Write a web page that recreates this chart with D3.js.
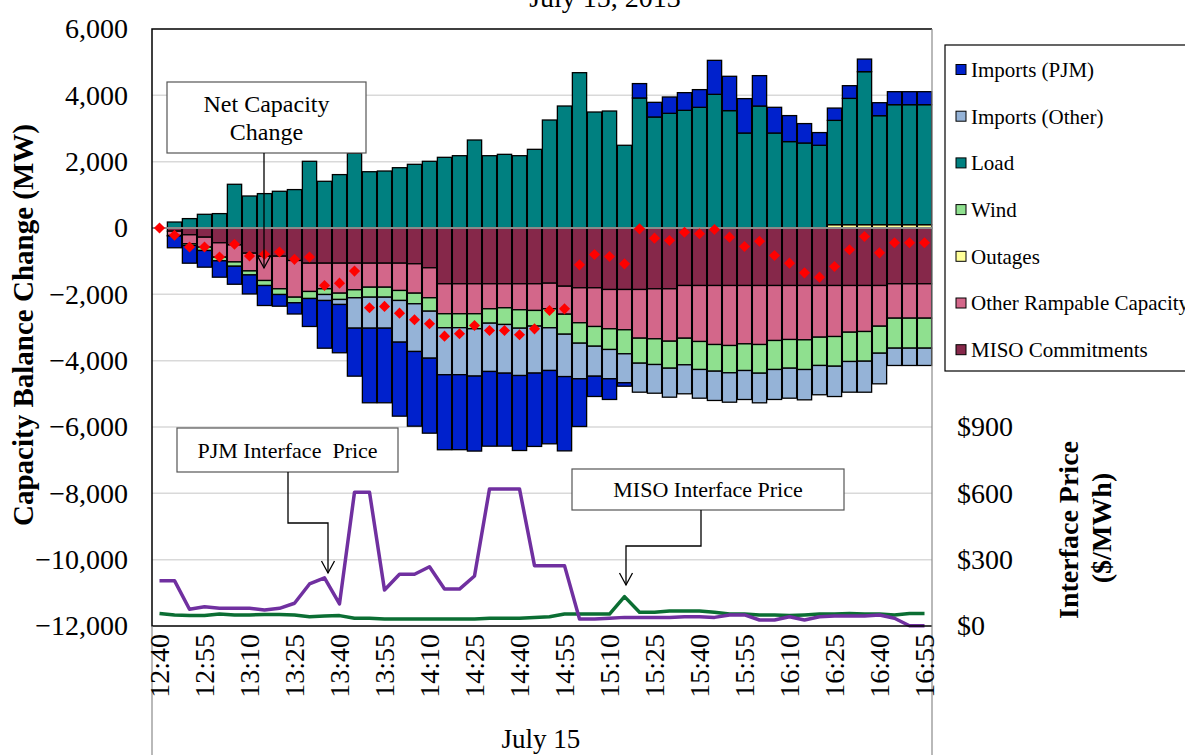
<!DOCTYPE html>
<html>
<head>
<meta charset="utf-8">
<script src="https://cdn.jsdelivr.net/npm/d3@7"></script>
<style>
  body { margin: 0; background: #fff; }
  text { font-family: "Liberation Serif", "Times New Roman", serif; fill: #000; }
</style>
</head>
<body>
<svg id="chart"></svg>
<script>
// 5-minute intervals, July 15
let times = ["12:40","12:45","12:50","12:55","13:00","13:05","13:10","13:15","13:20","13:25","13:30","13:35",
             "13:40","13:45","13:50","13:55","14:00","14:05","14:10","14:15","14:20","14:25","14:30","14:35",
             "14:40","14:45","14:50","14:55","15:00","15:05","15:10","15:15","15:20","15:25","15:30","15:35",
             "15:40","15:45","15:50","15:55","16:00","16:05","16:10","16:15","16:20","16:25","16:30","16:35",
             "16:40","16:45","16:50","16:55"];

// capacity balance change components (MW)
let misoCommitments = [0,-96,-205,-277,-446,-510,-760,-850,-850,-980,-1061,-1061,-1061,-1061,-1061,-1061,-1061,-1079,-1200,-1682,
                       -1682,-1682,-1682,-1682,-1682,-1682,-1664,-1755,-1803,-1803,-1854,-1854,-1854,-1833,-1833,-1734,-1734,-1734,-1734,-1734,
                       -1734,-1734,-1734,-1734,-1734,-1734,-1734,-1734,-1734,-1682,-1682,-1682];
let otherRampable = [0,-130,-271,-301,-434,-513,-534,-733,-983,-1106,-853,-772,-904,-802,-724,-724,-823,-886,-904,-904,
                     -904,-904,-754,-724,-784,-804,-772,-844,-1055,-1167,-1185,-1215,-1468,-1508,-1580,-1589,-1688,-1779,-1809,-1759,
                     -1779,-1658,-1628,-1638,-1558,-1538,-1408,-1387,-1227,-1037,-1037,-1037];
let outages = [0,0,0,0,0,0,0,0,0,0,0,0,0,0,0,0,0,0,0,0,
               0,0,0,0,0,0,0,0,0,0,0,0,0,0,0,0,0,0,0,0,
               0,0,0,0,0,100,100,100,100,100,100,100];
let wind = [0,-15,-51,-100,-109,-130,-121,-151,-172,-169,-211,-172,-190,-241,-301,-301,-301,-320,-404,-422,
            -420,-452,-434,-503,-555,-472,-573,-603,-615,-594,-624,-724,-754,-775,-814,-802,-844,-804,-823,-804,
            -865,-874,-865,-895,-853,-895,-883,-895,-814,-904,-904,-904];
let load = [0,180,283,413,434,1318,965,1037,1107,1158,2011,1408,1610,2252,1697,1718,1818,1920,2011,2131,
            2180,2653,2180,2221,2180,2372,3256,3678,4683,3497,3527,2494,3920,3347,3458,3548,3639,4030,3539,2864,
            3678,2864,2605,2563,2494,3145,3808,4613,3286,3618,3618,3618];
let importsOther = [0,0,0,0,0,0,0,0,0,0,0,-181,-151,-916,-935,-935,-1257,-1438,-1417,-1417,
                    -1417,-1427,-1456,-1468,-1427,-1417,-1287,-1278,-1073,-904,-883,-874,-874,-865,-874,-874,-865,-883,-886,-874,
                    -893,-904,-904,-914,-883,-914,-925,-935,-923,-522,-522,-522];
let importsPJM = [0,-355,-534,-503,-494,-543,-573,-603,-353,-338,-844,-1438,-1456,-1447,-2249,-2249,-2231,-2252,-2261,-2261,
                  -2261,-2261,-2252,-2200,-2261,-2211,-2211,-2240,-1438,-612,-624,-103,434,442,492,533,533,1025,1035,1037,
                  916,775,784,585,383,371,383,380,392,392,392,392];
let netCapacity = [0,-220,-572,-572,-874,-490,-844,-794,-724,-945,-874,-1734,-1664,-1300,-2405,-2365,-2567,-2767,-2888,-3262,
                   -3190,-2940,-3090,-3090,-3220,-3040,-2488,-2437,-1110,-800,-860,-1080,-25,-307,-377,-127,-175,-45,-277,-558,
                   -398,-829,-1061,-1351,-1483,-1161,-657,-256,-748,-446,-446,-446];

// interface prices ($/MWh)
let pjmPrice = [205,205,76,87,80,80,80,72,80,103,190,218,100,605,605,163,234,234,268,167,
                167,226,620,620,620,273,273,273,32,32,35,39,39,39,39,42,42,39,50,50,
                27,27,42,27,42,45,45,45,50,35,1,1];
let misoPrice = [57,50,47,47,54,50,50,52,52,50,42,45,47,35,35,32,32,32,32,32,
                 32,32,35,35,35,38,42,54,54,54,54,133,62,62,68,68,68,62,54,54,
                 50,50,47,50,54,54,57,54,54,50,57,57];

let mwTicks = [6000,4000,2000,0,-2000,-4000,-6000,-8000,-10000,-12000];
let priceTicks = [0,300,600,900];

let seriesNames = ["MISO Commitments","Other Rampable Capacity","Outages","Wind","Load","Imports (Other)","Imports (PJM)"];
let seriesValues = [misoCommitments, otherRampable, outages, wind, load, importsOther, importsPJM];
let colors = {
  "Imports (PJM)": "#0021cc",
  "Imports (Other)": "#95b3d7",
  "Load": "#008080",
  "Wind": "#8fe08f",
  "Outages": "#ffff99",
  "Other Rampable Capacity": "#d3678a",
  "MISO Commitments": "#86284a"
};
let legendOrder = ["Imports (PJM)","Imports (Other)","Load","Wind","Outages","Other Rampable Capacity","MISO Commitments"];

let width = 1185;
let height = 755;
let plot = {left: 152, right: 932, top: 29, bottom: 626};

let svg = d3.select('#chart').attr('width', width).attr('height', height);

let rows = times.map((t, i) => {
  let r = {time: t};
  seriesNames.forEach((s, k) => r[s] = seriesValues[k][i]);
  return r;
});

let xScale = d3.scaleBand().domain(times).range([plot.left, plot.right]).paddingInner(0.05).paddingOuter(0.025);
let xCenter = (t) => xScale(t) + xScale.bandwidth() / 2;
let yScale = d3.scaleLinear().domain([-12000, 6000]).range([plot.bottom, plot.top]);
let pScale = d3.scaleLinear().domain([0, 2700]).range([plot.bottom, plot.top]);

// gridlines
svg.append('g')
   .selectAll('line')
   .data(mwTicks.filter(d => d != 6000 && d != -12000 && d != 0))
   .enter()
   .append('line')
   .attr('x1', plot.left).attr('x2', plot.right)
   .attr('y1', d => yScale(d)).attr('y2', d => yScale(d))
   .attr('stroke', '#d9d9d9').attr('stroke-width', 1.5);

// stacked bars
let stack = d3.stack().keys(seriesNames).offset(d3.stackOffsetDiverging);
let stacked = stack(rows);

svg.append('g')
   .selectAll('g')
   .data(stacked)
   .enter()
   .append('g')
   .attr('fill', d => colors[d.key])
   .selectAll('rect')
   .data(d => d.filter(p => p[1] - p[0] != 0))
   .enter()
   .append('rect')
   .attr('x', d => xScale(d.data.time))
   .attr('width', xScale.bandwidth())
   .attr('y', d => yScale(Math.max(d[0], d[1])))
   .attr('height', d => Math.abs(yScale(d[0]) - yScale(d[1])))
   .attr('stroke', '#000')
   .attr('stroke-width', 1.3);

// zero line
svg.append('line')
   .attr('x1', plot.left).attr('x2', plot.right)
   .attr('y1', yScale(0)).attr('y2', yScale(0))
   .attr('stroke', '#8a8a8a').attr('stroke-width', 1.8);

// net capacity diamonds
svg.append('g')
   .selectAll('path')
   .data(netCapacity)
   .enter()
   .append('path')
   .attr('d', d3.symbol(d3.symbolSquare, 62))
   .attr('transform', (d, i) => 'translate(' + xCenter(times[i]) + ',' + yScale(d) + ') rotate(45)')
   .attr('fill', '#ff0000');

// price lines
let priceLine = d3.line().x((d, i) => xCenter(times[i])).y(d => pScale(d));
svg.append('path')
   .datum(misoPrice)
   .attr('d', priceLine)
   .attr('fill', 'none')
   .attr('stroke', '#0b6e33')
   .attr('stroke-width', 3.5)
   .attr('stroke-linejoin', 'round');
svg.append('path')
   .datum(pjmPrice)
   .attr('d', priceLine)
   .attr('fill', 'none')
   .attr('stroke', '#7030a0')
   .attr('stroke-width', 3.5)
   .attr('stroke-linejoin', 'round');

// plot border and category divider lines
svg.append('path')
   .attr('d', 'M' + plot.right + ',' + plot.top + 'H' + plot.left + 'V' + plot.bottom + 'H' + plot.right)
   .attr('fill', 'none').attr('stroke', '#000').attr('stroke-width', 1.5);
svg.append('line')
   .attr('x1', plot.right).attr('x2', plot.right).attr('y1', plot.top).attr('y2', height)
   .attr('stroke', '#8a8a8a').attr('stroke-width', 1.2);
svg.append('line')
   .attr('x1', plot.left).attr('x2', plot.left).attr('y1', plot.bottom).attr('y2', height)
   .attr('stroke', '#8a8a8a').attr('stroke-width', 1.2);

// left axis
let yAxis = d3.axisLeft(yScale).tickValues(mwTicks).tickFormat(d3.format(',')).tickSize(0).tickPadding(24);
let yAxisG = svg.append('g')
   .attr('transform', 'translate(' + plot.left + ',0)')
   .call(yAxis);
yAxisG.select('.domain').remove();
yAxisG.selectAll('text').style('font-size', '28px').style('font-family', '"Liberation Serif", serif');

// right axis
let pAxis = d3.axisRight(pScale).tickValues(priceTicks).tickFormat(d => '$' + d).tickSize(0).tickPadding(25);
let pAxisG = svg.append('g')
   .attr('transform', 'translate(' + plot.right + ',0)')
   .call(pAxis);
pAxisG.select('.domain').remove();
pAxisG.selectAll('text').style('font-size', '28px').style('font-family', '"Liberation Serif", serif');

// x tick labels (every 15 minutes)
svg.append('g')
   .selectAll('text')
   .data(times.filter((t, i) => i % 3 == 0))
   .enter()
   .append('text')
   .attr('transform', d => 'translate(' + xCenter(d) + ',' + (plot.bottom + 8) + ') rotate(-90)')
   .attr('text-anchor', 'end')
   .attr('dy', '0.35em')
   .style('font-size', '28px')
   .text(d => d);

svg.append('text')
   .attr('x', 541).attr('y', 748)
   .attr('text-anchor', 'middle')
   .style('font-size', '27px')
   .text('July 15');

// title (partly above the frame)
svg.append('text')
   .attr('x', 605).attr('y', 7)
   .attr('text-anchor', 'middle')
   .style('font-size', '28px')
   .text('July 15, 2013');

// axis titles
svg.append('text')
   .attr('transform', 'translate(33,325) rotate(-90)')
   .attr('text-anchor', 'middle')
   .style('font-size', '29px').style('font-weight', 'bold')
   .text('Capacity Balance Change (MW)');
svg.append('text')
   .attr('transform', 'translate(1078,530) rotate(-90)')
   .attr('text-anchor', 'middle')
   .style('font-size', '28px').style('font-weight', 'bold')
   .text('Interface Price');
svg.append('text')
   .attr('transform', 'translate(1111,528) rotate(-90)')
   .attr('text-anchor', 'middle')
   .style('font-size', '28px').style('font-weight', 'bold')
   .text('($/MWh)');

// legend
let legend = svg.append('g');
legend.append('rect')
   .attr('x', 945).attr('y', 45).attr('width', 260).attr('height', 326)
   .attr('fill', '#fff').attr('stroke', '#000').attr('stroke-width', 1.2);
let items = legend.selectAll('g.item')
   .data(legendOrder)
   .enter()
   .append('g')
   .attr('class', 'item')
   .attr('transform', (d, i) => 'translate(956,' + (69.5 + i * 46.7) + ')');
items.append('rect')
   .attr('x', 0).attr('y', -5).attr('width', 10).attr('height', 10)
   .attr('fill', d => colors[d]).attr('stroke', '#000').attr('stroke-width', 1);
items.append('text')
   .attr('x', 15).attr('dy', '0.35em')
   .style('font-size', '21px')
   .text(d => d);

// annotation callouts
let callout = (box, lines, fontSize, path) => {
  let g = svg.append('g');
  g.append('rect')
   .attr('x', box[0]).attr('y', box[1]).attr('width', box[2]).attr('height', box[3])
   .attr('fill', '#fff').attr('stroke', '#555').attr('stroke-width', 1.2);
  lines.forEach((t, k) => {
    g.append('text')
     .attr('x', box[0] + box[2] / 2)
     .attr('y', box[1] + box[3] / 2 + (k - (lines.length - 1) / 2) * fontSize * 1.15)
     .attr('dy', '0.35em')
     .attr('text-anchor', 'middle')
     .style('font-size', fontSize + 'px')
     .style('white-space', 'pre')
     .text(t);
  });
  let tip = path[path.length - 1];
  g.append('path')
   .attr('d', d3.line()(path))
   .attr('fill', 'none').attr('stroke', '#000').attr('stroke-width', 1.3);
  g.append('path')
   .attr('d', 'M' + (tip[0] - 6.5) + ',' + (tip[1] - 12) + 'L' + tip[0] + ',' + tip[1] + 'L' + (tip[0] + 6.5) + ',' + (tip[1] - 12))
   .attr('fill', 'none').attr('stroke', '#000').attr('stroke-width', 1.3);
};

callout([167, 82, 199, 71], ['Net Capacity', 'Change'], 24, [[264, 153], [264, 268]]);
callout([177, 428, 221, 44], ['PJM Interface\u00a0 Price'], 22, [[288, 472], [288, 523], [328, 523], [328, 573]]);
callout([572, 469, 272, 41], ['MISO Interface Price'], 22, [[701, 510], [701, 546], [626, 546], [626, 585]]);
</script>
</body>
</html>
